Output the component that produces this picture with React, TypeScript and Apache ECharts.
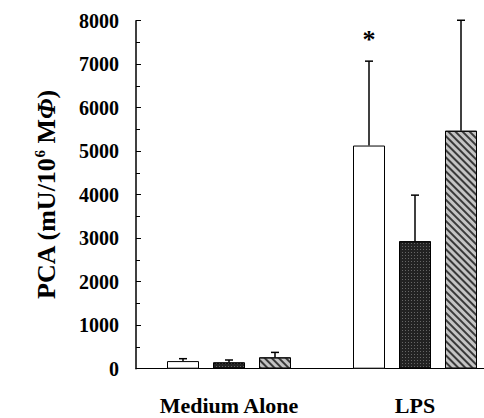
import React, { useEffect, useRef } from "react";
import * as echarts from "echarts";

const categories = ["Medium Alone", "LPS"];
const seriesNames = ["Group 1", "Group 2", "Group 3"];
const whiteValues = [175, 5130];
const darkValues = [145, 2930];
const hatchedValues = [260, 5470];
const whiteErrors = [55, 1940];
const darkErrors = [55, 1060];
const hatchedErrors = [115, 2540];
const whiteMarks = ["", "*"];
const darkMarks = ["", ""];
const hatchedMarks = ["", ""];
const yMin = 0;
const yMax = 8000;
const yInterval = 1000;

const FONT = "'Liberation Serif', 'Times New Roman', serif";
const BAR_W = 32;
const BAR_GAP_PX = 14;

export default function App() {
  const ref = useRef<HTMLDivElement>(null);
  useEffect(() => {
    document.body.style.margin = "0";
    const chart = echarts.init(ref.current!, null, { renderer: "svg" });
    const valueSets = [whiteValues, darkValues, hatchedValues];
    const errorSets = [whiteErrors, darkErrors, hatchedErrors];
    const markSets = [whiteMarks, darkMarks, hatchedMarks];
    const styles: any[] = [
      { color: "#ffffff", borderColor: "#000", borderWidth: 1 },
      {
        color: "#222222",
        borderColor: "#000",
        borderWidth: 1,
        decal: {
          symbol: "rect",
          symbolSize: 1,
          color: "rgba(255,255,255,0.3)",
          dashArrayX: [1, 2],
          dashArrayY: [1, 2],
          rotation: 0,
        },
      },
      {
        color: "#c4c4c4",
        borderColor: "#000",
        borderWidth: 1,
        decal: {
          symbol: "rect",
          symbolSize: 1,
          color: "#3a3a3a",
          dashArrayX: [1, 0],
          dashArrayY: [2, 3],
          rotation: Math.PI / 4,
        },
      },
    ];
    const bars = seriesNames.map((name, i) => ({
      type: "bar",
      name,
      data: valueSets[i],
      barWidth: BAR_W,
      barGap: (BAR_GAP_PX / BAR_W) * 100 + "%",
      itemStyle: styles[i],
      z: 2,
    }));
    const errs = seriesNames.map((name, i) => ({
      type: "custom",
      name: name + " error",
      data: categories.map((_, c) => [c, valueSets[i][c], errorSets[i][c]]),
      encode: { x: 0, y: 1 },
      z: 3,
      renderItem: (params: any, api: any) => {
        const cat = api.value(0);
        const v = api.value(1);
        const e = api.value(2);
        const base = api.coord([cat, v]);
        const top = api.coord([cat, v + e]);
        const x = base[0] + (i - 1) * (BAR_W + BAR_GAP_PX);
        const children: any[] = [
          {
            type: "line",
            shape: { x1: x, y1: base[1], x2: x, y2: top[1] },
            style: { stroke: "#000", lineWidth: 1.5 },
          },
          {
            type: "line",
            shape: { x1: x - 4, y1: top[1], x2: x + 4, y2: top[1] },
            style: { stroke: "#000", lineWidth: 1.5 },
          },
        ];
        const mark = markSets[i][params.dataIndex];
        if (mark) {
          children.push({
            type: "text",
            x,
            y: top[1] - 22,
            style: {
              text: mark,
              fontSize: 26,
              fontWeight: "bold",
              fontFamily: FONT,
              fill: "#000",
              align: "center",
              verticalAlign: "middle",
            },
          });
        }
        return { type: "group", children };
      },
    }));
    chart.setOption({
      animation: false,
      grid: { left: 136, top: 20.7, bottom: 49.3, right: 0 },
      xAxis: {
        type: "category",
        data: categories,
        axisLine: { lineStyle: { color: "#000", width: 1 } },
        axisTick: { show: false },
        axisLabel: {
          color: "#000",
          fontFamily: FONT,
          fontWeight: "bold",
          fontSize: 22,
          margin: 26,
        },
      },
      yAxis: {
        type: "value",
        min: yMin,
        max: yMax,
        interval: yInterval,
        name: "{a|PCA (mU/10}{s|6}{a| M}{i|Φ}{a|)}",
        nameLocation: "middle",
        nameGap: 76,
        nameTextStyle: {
          color: "#000",
          fontFamily: FONT,
          fontWeight: "bold",
          fontSize: 26,
          rich: {
            a: { fontFamily: FONT, fontWeight: "bold", fontSize: 26, color: "#000", lineHeight: 28 },
            s: { fontFamily: FONT, fontWeight: "bold", fontSize: 15, color: "#000", verticalAlign: "top", lineHeight: 28 },
            i: { fontFamily: FONT, fontWeight: "bold", fontStyle: "italic", fontSize: 26, color: "#000", lineHeight: 28 },
          },
        },
        splitLine: { show: false },
        axisLine: { show: true, lineStyle: { color: "#000", width: 1.5 } },
        axisTick: { show: true, inside: true, length: 5, lineStyle: { color: "#000" } },
        minorTick: { show: true, splitNumber: 2, length: 4, lineStyle: { color: "#000" } },
        axisLabel: {
          color: "#000",
          fontFamily: FONT,
          fontWeight: "bold",
          fontSize: 20,
          margin: 17,
          formatter: (v: number) => String(v),
        },
      },
      series: [...bars, ...errs],
    });
    return () => chart.dispose();
  }, []);
  return (
    <div style={{ width: 484, height: 418, overflow: "hidden" }}>
      <div ref={ref} style={{ width: 508, height: 418 }} />
    </div>
  );
}
